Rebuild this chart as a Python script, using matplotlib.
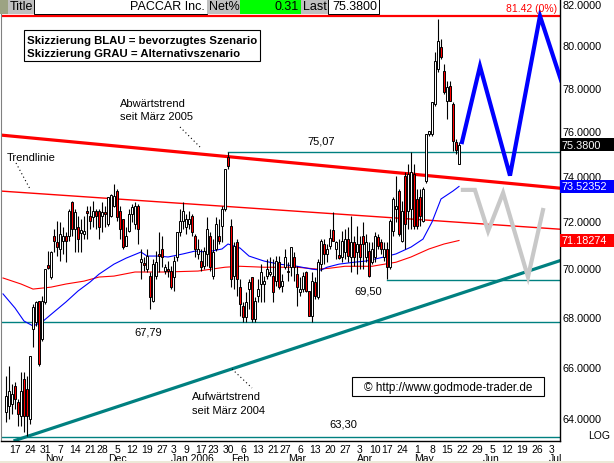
import numpy as np
import pandas as pd
import matplotlib
matplotlib.use('Agg')
import matplotlib.pyplot as plt
import matplotlib.transforms as mtransforms
from matplotlib.patches import Rectangle
from matplotlib.lines import Line2D

plt.rcParams['font.family'] = ['Liberation Sans', 'DejaVu Sans']

# Tageskerzen PACCAR, 12.10.2005 - 19.05.2006
opens = [64.23, 64.47, 64.55, 65.24, 64.62, 64.08, 65.51, 65.12, 63.96, 67.51,
         67.79, 68.65, 67.10, 68.61, 70.14, 69.64, 71.37, 71.11, 70.82, 71.16,
         71.37, 71.37, 72.84, 71.67, 71.76, 71.50, 71.46, 72.44, 72.23, 72.19,
         72.44, 72.44, 72.23, 72.40, 71.89, 72.23, 72.66, 73.32, 72.44, 72.10,
         70.95, 71.58, 72.32, 71.89, 72.66, 70.26, 70.22, 69.97, 69.68, 68.65,
         69.68, 70.61, 70.82, 69.89, 69.97, 69.89, 69.64, 70.48, 71.54, 72.01,
         71.76, 71.89, 72.23, 71.37, 70.61, 70.31, 70.09, 70.61, 71.37, 69.68,
         70.82, 71.37, 71.80, 72.53, 74.83, 71.80, 69.68, 71.11, 69.22, 68.44,
         67.99, 69.14, 69.64, 67.91, 68.86, 69.35, 69.35, 69.68, 69.76, 69.68,
         69.47, 70.26, 69.26, 70.05, 69.89, 70.05, 70.48, 69.76, 69.02, 69.14,
         69.85, 69.06, 68.03, 69.43, 68.81, 70.18, 71.03, 70.61, 70.95, 71.63,
         70.82, 70.56, 70.48, 70.69, 71.24, 70.48, 71.11, 70.69, 71.03, 71.37,
         70.48, 70.73, 70.26, 70.48, 71.33, 71.11, 70.48, 70.82, 70.05, 71.58,
         72.53, 73.32, 71.16, 73.98, 72.44, 72.53, 74.07, 72.97, 73.06, 72.01,
         73.76, 75.87, 75.87, 77.24, 78.87, 79.92, 78.78, 77.38, 78.07, 77.24,
         75.50, 74.51]
highs = [65.63, 66.03, 65.32, 65.39, 64.74, 65.79, 65.79, 65.63, 66.42, 68.53,
         68.65, 68.65, 68.86, 69.97, 70.73, 70.73, 71.67, 72.01, 71.97, 71.76,
         71.54, 72.53, 72.88, 72.53, 72.23, 72.10, 72.23, 72.66, 72.66, 72.88,
         72.53, 72.53, 72.84, 72.66, 73.06, 73.19, 73.63, 73.41, 72.66, 72.10,
         71.76, 72.53, 72.75, 72.84, 72.75, 70.82, 70.48, 70.82, 69.85, 70.39,
         70.73, 71.54, 71.37, 70.18, 70.31, 70.09, 70.52, 71.54, 72.53, 72.84,
         72.32, 72.44, 72.32, 71.46, 71.24, 70.82, 70.90, 72.19, 71.54, 71.24,
         72.19, 72.10, 72.66, 74.29, 75.07, 72.10, 71.11, 71.24, 69.56, 68.61,
         69.02, 69.56, 69.64, 68.81, 69.56, 70.18, 69.68, 70.39, 70.48, 70.39,
         70.52, 70.52, 69.76, 70.82, 70.26, 70.90, 70.69, 70.09, 69.64, 69.85,
         69.89, 69.06, 69.85, 69.64, 70.39, 71.24, 71.24, 71.03, 71.67, 72.40,
         71.16, 71.24, 71.58, 71.67, 71.76, 72.23, 71.37, 71.80, 71.37, 71.97,
         71.46, 71.11, 71.11, 71.54, 71.46, 71.24, 71.11, 71.11, 72.10, 73.06,
         73.98, 73.41, 72.88, 74.16, 74.51, 75.05, 74.51, 73.41, 73.41, 73.50,
         75.87, 76.00, 77.33, 79.68, 81.27, 80.30, 79.11, 78.31, 78.31, 77.33,
         75.64, 75.50]
lows = [63.85, 63.96, 64.16, 64.35, 63.69, 63.69, 63.47, 63.31, 63.77, 66.78,
        67.63, 66.03, 67.02, 68.53, 69.97, 69.56, 70.69, 70.52, 70.31, 70.61,
        70.26, 71.16, 71.37, 70.69, 70.69, 70.69, 71.24, 71.24, 71.67, 71.76,
        71.67, 71.24, 71.54, 71.76, 71.80, 72.19, 72.62, 72.01, 71.24, 70.82,
        70.95, 71.54, 71.97, 71.67, 71.03, 69.56, 69.89, 69.85, 68.32, 68.61,
        69.56, 69.85, 70.05, 69.76, 69.64, 69.14, 69.06, 70.31, 71.37, 71.67,
        71.46, 71.67, 71.37, 70.48, 70.39, 69.89, 69.97, 70.09, 69.89, 69.56,
        70.73, 71.03, 71.11, 72.44, 74.29, 69.22, 69.14, 68.86, 68.03, 67.79,
        67.79, 68.32, 67.79, 67.79, 68.61, 68.61, 68.61, 69.56, 69.68, 68.61,
        69.26, 69.14, 69.02, 69.97, 69.47, 69.68, 69.47, 68.44, 68.86, 69.02,
        69.02, 68.03, 67.79, 68.73, 68.73, 69.89, 70.18, 70.26, 70.82, 71.16,
        70.39, 70.39, 70.26, 70.39, 70.26, 69.85, 70.09, 69.76, 69.97, 69.97,
        70.26, 69.64, 70.18, 70.26, 70.82, 70.61, 70.31, 69.56, 69.97, 71.37,
        71.97, 71.37, 71.11, 70.82, 71.67, 71.67, 71.67, 71.67, 71.80, 71.97,
        73.67, 75.78, 75.78, 77.15, 78.73, 79.34, 77.70, 76.55, 77.38, 75.09,
        74.96, 74.51]
closes = [64.85, 65.04, 64.93, 64.74, 64.16, 65.04, 64.08, 64.08, 66.42, 68.40,
          68.61, 66.11, 68.65, 69.97, 70.01, 70.69, 71.16, 70.90, 71.46, 71.37,
          71.16, 72.44, 71.67, 72.40, 71.24, 71.63, 71.58, 72.36, 72.01, 72.44,
          72.23, 71.76, 72.40, 72.32, 73.06, 73.15, 73.10, 72.19, 71.67, 70.90,
          71.37, 72.32, 72.62, 72.66, 71.67, 70.39, 70.14, 70.52, 68.81, 70.18,
          70.26, 70.52, 70.48, 70.05, 69.89, 69.22, 70.31, 71.54, 72.01, 72.44,
          72.10, 72.10, 71.54, 70.82, 70.82, 70.05, 70.73, 71.67, 70.05, 70.69,
          71.89, 71.16, 72.53, 74.29, 74.42, 69.56, 70.95, 69.56, 68.53, 67.99,
          68.61, 69.43, 67.91, 68.65, 69.14, 69.85, 69.47, 69.97, 69.85, 69.02,
          70.31, 69.22, 69.47, 70.48, 69.85, 70.90, 70.05, 69.22, 69.14, 69.68,
          69.06, 68.03, 69.47, 68.86, 70.26, 71.16, 70.61, 70.82, 71.29, 71.16,
          71.11, 70.43, 71.16, 71.24, 70.52, 71.11, 70.48, 71.03, 70.48, 71.03,
          71.11, 69.68, 70.82, 71.37, 70.95, 70.82, 70.82, 70.05, 72.01, 72.97,
          72.66, 71.46, 72.44, 71.89, 74.07, 74.16, 71.80, 71.80, 72.23, 73.41,
          75.87, 76.00, 77.33, 79.25, 80.20, 79.44, 77.79, 78.02, 77.38, 75.55,
          75.15, 75.38]

holidays = ['2005-11-24', '2005-12-26', '2006-01-02', '2006-01-16', '2006-02-20', '2006-04-14']

# gleitende Durchschnitte (Handelstage ab 17.10.2005)
ma_blue_days = [-4, 0, 3, 6, 9, 13, 17, 21, 25, 28, 33, 37, 42, 44, 48, 51, 56, 60, 64, 69, 71,
                75, 78, 83, 88, 94, 99, 102, 104, 108, 113, 117, 123, 127, 132, 136, 139,
                142, 146, 148]
ma_blue = [68.94, 68.36, 67.83, 67.63, 67.79, 68.20, 68.61, 69.06, 69.43, 69.76, 70.18, 70.43,
           70.69, 70.52, 70.52, 70.48, 70.61, 70.73, 70.69, 70.82, 71.03, 70.86, 70.52, 70.31,
           70.18, 70.09, 69.97, 69.93, 70.05, 70.18, 70.26, 70.31, 70.48, 70.61, 70.90, 71.24,
           71.97, 72.97, 73.32, 73.52]
ma_red_days = [-4, 2, 6, 12, 17, 23, 28, 33, 40, 50, 61, 70, 75, 83, 94, 101, 105, 110, 119,
               127, 132, 138, 143, 148]
ma_red = [69.60, 69.35, 69.14, 69.22, 69.35, 69.47, 69.64, 69.68, 69.85, 69.85, 69.89, 70.05,
          70.09, 70.05, 70.05, 69.97, 70.01, 70.09, 70.09, 70.26, 70.48, 70.82, 71.03, 71.18]

# Trendlinien
abwaerts_days = [-5, 182]
abwaerts = [75.82, 73.44]
trendlinie_days = [-5, 182]
trendlinie = [73.32, 71.66]
aufwaerts_days = [0, 182]
aufwaerts = [63.15, 70.34]

# horizontale Marken
marken = [75.07, 69.50, 67.79, 63.30]
marken_start = [71, 124, -5, -5]
ziel = 81.42

# Szenarien
blau_days = [149, 155, 165, 175, 182]
blau = [75.50, 79.00, 74.00, 81.42, 78.35]
grau_days = [149.3, 153.3, 157.7, 162.7, 171, 176]
grau = [73.37, 73.37, 71.58, 73.24, 69.64, 72.49]

y_ticks = [64, 66, 68, 70, 72, 74, 76, 78, 80, 82]

W, H = 614, 464

past = pd.bdate_range('2005-10-12', '2006-05-19')
past = past[~past.isin(pd.to_datetime(holidays))]
future = pd.bdate_range('2006-05-22', '2006-07-07')
dates = past.append(future)
t0 = dates.get_loc(pd.Timestamp('2005-10-17'))
pos = np.arange(len(dates)) - t0

fig = plt.figure(figsize=(W / 100, H / 100), dpi=100)
ax = fig.add_axes([1 / W, 22 / H, 559 / W, 442 / H])
ax.set_yscale('log')
ax.set_ylim(63.13, 82.25)
ax.set_xlim(-4.67, 181.67)


def px(x, y):
    return x / W, 1 - y / H


def ftext(x, y, s, **kw):
    fig.text(*px(x, y), s, **kw)


# Linien
x0, x1 = ax.get_xlim()
ax.plot([x0, x1], [ziel, ziel], color='#ff0000', lw=1.6, zorder=1)
ax.plot(abwaerts_days, abwaerts, color='#ff0000', lw=2.3, zorder=1)
ax.plot(trendlinie_days, trendlinie, color='#ff0000', lw=1.0, zorder=1)
ax.plot(aufwaerts_days, aufwaerts, color='#008080', lw=2.3, zorder=1)
for lvl, start in zip(marken, marken_start):
    ax.plot([start, x1], [lvl, lvl], color='#008080', lw=1.0, zorder=1)
ax.plot(ma_red_days, ma_red, color='#ff0000', lw=0.8, zorder=2)
ax.plot(ma_blue_days, ma_blue, color='#0000ff', lw=0.8, zorder=2)

# Kerzen
o = np.array(opens)
c = np.array(closes)
cx = pos[:len(o)]
ax.vlines(cx, lows, highs, color='black', lw=0.8, zorder=3)
up = c >= o
bottom = np.minimum(o, c)
height = np.maximum(np.abs(c - o), 0.02)
ax.bar(cx[up], height[up], bottom=bottom[up], width=0.7, color='white',
       edgecolor='black', linewidth=0.7, zorder=4)
ax.bar(cx[~up], height[~up], bottom=bottom[~up], width=0.7, color='#ff0000',
       edgecolor='black', linewidth=0.7, zorder=4)

# Szenarien
ax.plot(grau_days, grau, color='#c8c8c8', lw=3, zorder=5, solid_joinstyle='miter')
ax.plot(blau_days, blau, color='#0000ff', lw=3, zorder=5, solid_joinstyle='miter')

# Achsen
ax.yaxis.tick_right()
ax.yaxis.set_minor_locator(matplotlib.ticker.NullLocator())
ax.set_yticks(y_ticks, [f'{v:.4f}' for v in y_ticks])
ax.tick_params(axis='y', labelsize=7.8, length=0, pad=1.5)

tick_pos, tick_lab, mon_pos, mon_lab = [], [], [], []
prev_wk, prev_mon = None, None
for p, dt in zip(pos, dates):
    wk = dt.isocalendar()[1]
    if wk != prev_wk and p >= 0:
        tick_pos.append(p)
        tick_lab.append(str(dt.day))
    if prev_mon is not None and dt.month != prev_mon and p >= 0:
        mon_pos.append(p)
        mon_lab.append('Jan 2006' if dt.month == 1 else dt.strftime('%b'))
    prev_wk, prev_mon = wk, dt.month
ax.set_xticks(tick_pos, tick_lab)
ax.tick_params(axis='x', labelsize=7.5, length=0, pad=2)
trans = mtransforms.blended_transform_factory(ax.transData, ax.transAxes)
for p, lab in zip(mon_pos, mon_lab):
    ax.text(p - 1, -17 / 442, lab, transform=trans, ha='left', va='center', fontsize=7.5)

ax.spines['top'].set_visible(False)
ax.spines['left'].set_color('#808080')
for s in ['bottom', 'right']:
    ax.spines[s].set_linewidth(1.0)

# Wertkästen rechts
for val, txt, bg in [(75.38, '75.3800', 'black'), (73.52352, '73.52352', '#0000ff'),
                     (71.18274, '71.18274', '#ff0000')]:
    yf = ax.transData.transform((0, val))[1] / fig.bbox.height
    fig.patches.append(Rectangle((560 / W, yf - 6.5 / H), 54 / W, 13 / H, transform=fig.transFigure,
                                 facecolor=bg, edgecolor='none', zorder=5))
    fig.text(561 / W, yf, txt, color='white', fontsize=7.8, va='center', ha='left', zorder=6)
ftext(610, 436, 'LOG', fontsize=7.5, ha='right', va='center')

# Kopfzeile
for x_a, x_b, bg, txt, ha in [(0, 8, '#9ca383', '', 'left'), (8, 34, '#c0c0c0', 'Title', 'left'),
                              (34, 207, 'white', 'PACCAR Inc.', 'right'),
                              (207, 240, '#c0c0c0', 'Net%', 'left'),
                              (240, 301, '#00ff00', '0.31', 'right'),
                              (301, 328, '#c0c0c0', 'Last', 'left'),
                              (328, 379, 'white', '75.3800', 'right')]:
    fig.patches.append(Rectangle(px(x_a, 15), (x_b - x_a) / W, 15 / H, transform=fig.transFigure,
                                 facecolor=bg, edgecolor='black' if bg == 'white' else 'none',
                                 lw=0.7, zorder=5))
    if txt:
        tx = x_a + 2 if ha == 'left' else x_b - 2
        ftext(tx, 7.5, txt, fontsize=9, ha=ha, va='center', zorder=6)
ftext(557, 9, '81.42 (0%)', color='#ff0000', fontsize=7.5, ha='right', va='center')

# Legende Szenarien
fig.patches.append(Rectangle(px(24, 62), 236 / W, 31 / H, transform=fig.transFigure,
                             facecolor='white', edgecolor='black', lw=0.8, zorder=5))
ftext(27, 41, 'Skizzierung BLAU = bevorzugtes Szenario', fontsize=8.2, weight='bold',
      va='center', zorder=6)
ftext(27, 54, 'Skizzierung GRAU = Alternativszenario', fontsize=8.2, weight='bold',
      va='center', zorder=6)

# Beschriftungen
ftext(120, 104, 'Abwärtstrend', fontsize=8, va='center')
ftext(120, 117, 'seit März 2005', fontsize=8, va='center')
ftext(7, 158, 'Trendlinie', fontsize=8, va='center')
ftext(192, 397, 'Aufwärtstrend', fontsize=8, va='center')
ftext(192, 411, 'seit März 2004', fontsize=8, va='center')
ftext(321, 142, '75,07', fontsize=8, ha='center', va='center')
ftext(368, 292, '69,50', fontsize=8, ha='center', va='center')
ftext(148, 333, '67,79', fontsize=8, ha='center', va='center')
ftext(343, 425, '63,30', fontsize=8, ha='center', va='center')
for (xa, ya), (xb, yb) in [((180, 128), (200, 148)), ((16, 164), (30, 190)),
                           ((232, 370), (252, 389))]:
    fig.add_artist(Line2D([xa / W, xb / W], [1 - ya / H, 1 - yb / H], transform=fig.transFigure,
                          color='black', lw=0.8, linestyle=(0, (1, 2.5))))

fig.patches.append(Rectangle(px(352, 397), 192 / W, 19 / H, transform=fig.transFigure,
                             facecolor='white', edgecolor='black', lw=0.8, zorder=5))
ftext(448, 388, '© http://www.godmode-trader.de', fontsize=8.5, ha='center', va='center', zorder=6)

fig.patches.append(Rectangle((0, 0), 1, 2.5 / H, transform=fig.transFigure,
                             facecolor='#ece9d8', edgecolor='none', zorder=5))

fig.savefig('out.png', dpi=100)
